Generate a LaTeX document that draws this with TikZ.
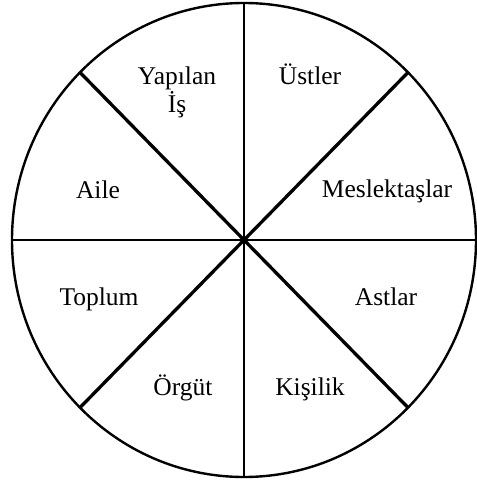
\documentclass[tikz,border=0pt]{standalone}
\usepackage{fontspec}
\setmainfont{Liberation Serif}
\usetikzlibrary{calc}

\begin{document}
\begin{tikzpicture}[
    x=1pt, y=-1pt,
    font=\fontsize{25.5}{28}\selectfont,
    rim/.style={line width=2.4pt},
    axis/.style={line width=2.6pt},
    diag/.style={line width=3.3pt},
    lbl/.style={anchor=base, inner sep=0pt, align=center},
  ]
\useasboundingbox (0,0) rectangle (476,481);

% ===== Circle and spokes =====
\coordinate (c) at (244,240);
\draw[rim] (c) ellipse [x radius=232, y radius=237];

\coordinate (pTop) at ($(c)+(0,-237)$);
\coordinate (pBot) at ($(c)+(0,237)$);
\coordinate (pLeft) at ($(c)+(-232,0)$);
\coordinate (pRight) at ($(c)+(232,0)$);
\coordinate (pNW) at ($(c)+(-164,-167.6)$);
\coordinate (pNE) at ($(c)+(164,-167.6)$);
\coordinate (pSW) at ($(c)+(-164,167.6)$);
\coordinate (pSE) at ($(c)+(164,167.6)$);

\draw[axis] (pTop) -- (pBot);
\draw[axis] (pLeft) -- (pRight);
\draw[diag] (pNW) -- (pSE);
\draw[diag] (pNE) -- (pSW);

% ===== Labels =====
\node[lbl] (yapilan) at (177,113) {Yapılan\\İş};
\node[lbl] (ustler) at (310,85) {Üstler};
\node[lbl] (aile) at (98,198) {Aile};
\node[lbl] (meslek) at (387,197) {Meslektaşlar};
\node[lbl] (toplum) at (99,305) {Toplum};
\node[lbl] (astlar) at (386,305) {Astlar};
\node[lbl] (orgut) at (183,395) {Örgüt};
\node[lbl] (kisilik) at (310,395) {Kişilik};

\end{tikzpicture}
\end{document}
